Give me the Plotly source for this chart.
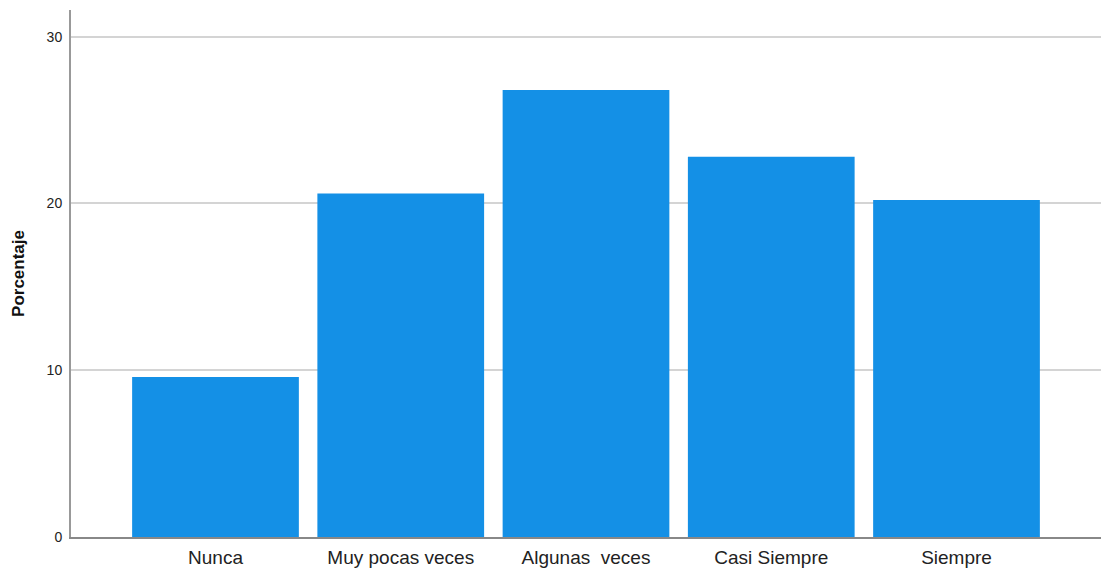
import plotly.graph_objects as go

categories = ["Nunca", "Muy pocas veces", "Algunas\u00a0 veces", "Casi Siempre", "Siempre"]
porcentaje = [9.6, 20.6, 26.8, 22.8, 20.2]
y_ticks = [0, 10, 20, 30]

fig = go.Figure(go.Bar(
    x=categories, y=porcentaje,
    marker=dict(color="#1490e6", line=dict(width=0)),
    width=0.9,
))

fig.update_layout(
    width=1110, height=571,
    margin=dict(l=71, r=9, t=10, b=34, autoexpand=False),
    paper_bgcolor="white", plot_bgcolor="white",
    font=dict(family="Liberation Sans, Arial, sans-serif", color="#222"),
    showlegend=False,
)
fig.update_xaxes(
    range=[-0.78, 4.78], showline=True, linecolor="#888", linewidth=1.5,
    showgrid=False, ticks="", tickfont=dict(size=19, color="#222"),
    ticklabelstandoff=2, automargin=False,
)
fig.update_yaxes(
    range=[0, 31.6], tickvals=y_ticks, showline=True, linecolor="#999", linewidth=2,
    showgrid=True, gridcolor="#d4d4d4", gridwidth=2, zeroline=False,
    ticks="", tickfont=dict(size=14, color="#222"), ticklabelstandoff=4,
    automargin=False,
    title=dict(text="<b>Porcentaje</b>", font=dict(size=17, color="#111"), standoff=18),
)

fig.write_html(
    "out.html",
    config={"displayModeBar": False},
    post_script="document.body.style.margin='0';document.body.style.overflow='hidden';",
)
